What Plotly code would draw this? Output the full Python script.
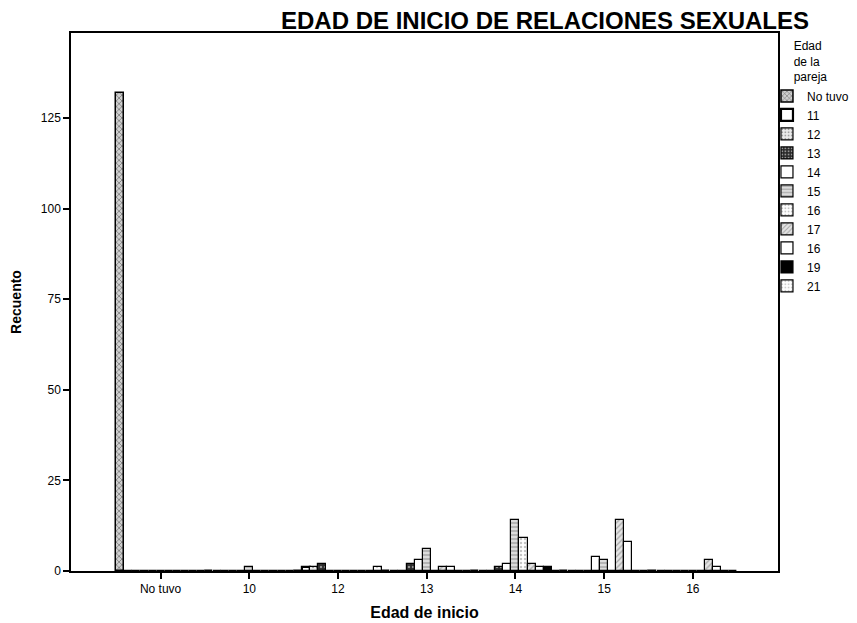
import plotly.graph_objects as go

categories = ["No tuvo", "10", "12", "13", "14", "15", "16"]
series_names = ["No tuvo", "11", "12", "13", "14", "15", "16", "17", "16", "19", "21"]
v_no_tuvo = [132, 0, 0, 0, 0, 0, 0]
v_11 = [0, 0, 1, 0, 0, 0, 0]
v_12 = [0, 0, 1, 0, 0, 0, 0]
v_13 = [0, 0, 2, 2, 1, 0, 0]
v_14 = [0, 0, 0, 3, 2, 4, 0]
v_15 = [0, 1, 0, 6, 14, 3, 0]
v_16 = [0, 0, 0, 0, 9, 0, 0]
v_17 = [0, 0, 0, 1, 2, 14, 3]
v_18 = [0, 0, 0, 1, 1, 8, 1]
v_19 = [0, 0, 0, 0, 1, 0, 0]
v_21 = [0, 0, 1, 0, 0, 0, 0]
series_values = [v_no_tuvo, v_11, v_12, v_13, v_14, v_15, v_16, v_17, v_18, v_19, v_21]
y_ticks = [0, 25, 50, 75, 100, 125]

styles = [
    dict(color="#d0d0d0", shape="x", fg="#000000", lw=1.5),
    dict(color="#ffffff", shape="", fg="#000000", lw=2.2),
    dict(color="#ececec", shape=".", fg="#555555", lw=1.2),
    dict(color="#2a2a2a", shape=".", fg="#ffffff", lw=1.2),
    dict(color="#ffffff", shape="", fg="#000000", lw=1.2),
    dict(color="#dcdcdc", shape="-", fg="#555555", lw=1.2),
    dict(color="#ffffff", shape=".", fg="#888888", lw=1.2),
    dict(color="#e4e4e4", shape="/", fg="#666666", lw=1.2),
    dict(color="#ffffff", shape="", fg="#000000", lw=1.2),
    dict(color="#000000", shape="", fg="#000000", lw=1.2),
    dict(color="#ffffff", shape=".", fg="#999999", lw=1.2),
]

fig = go.Figure()
for name, vals, st in zip(series_names, series_values, styles):
    fig.add_trace(go.Bar(
        x=categories, y=vals, name=name,
        marker=dict(color=st["color"],
                    line=dict(color="#000000", width=st["lw"]),
                    pattern=dict(shape=st["shape"], fgcolor=st["fg"], size=4, solidity=0.3)),
    ))

font_family = "Liberation Sans, Arial, sans-serif"
fig.update_layout(
    barmode="group", bargap=0, bargroupgap=0,
    width=849, height=615,
    margin=dict(l=63, r=79, t=25, b=52, autoexpand=False),
    paper_bgcolor="white", plot_bgcolor="white",
    font=dict(family=font_family, color="#000000", size=12),
    title=dict(text="<b>EDAD DE INICIO DE RELACIONES SEXUALES</b>",
               x=0.6325, xref="container", xanchor="center",
               y=0.9797, yref="container", yanchor="middle",
               font=dict(size=24, family=font_family, color="#000000")),
    xaxis=dict(type="category", range=[-1.01, 6.96],
               showline=True, linecolor="#000000", linewidth=1.5, mirror=True,
               ticks="outside", ticklen=6, tickwidth=2, tickcolor="#000000",
               showgrid=False, tickfont=dict(size=12),
               title=dict(text="<b>Edad de inicio</b>", font=dict(size=16), standoff=12)),
    yaxis=dict(range=[0, 148.5], tickvals=y_ticks,
               showline=True, linecolor="#000000", linewidth=1.5, mirror=True,
               ticks="outside", ticklen=6, tickwidth=1.5, tickcolor="#000000",
               showgrid=False, zeroline=False, tickfont=dict(size=12),
               title=dict(text="<b>Recuento</b>", font=dict(size=14), standoff=16)),
    legend=dict(x=0.9844, xanchor="left", y=0.997, yanchor="top",
                font=dict(size=12, family=font_family),
                title=dict(text="Edad<br>de la<br>pareja", side="top center",
                           font=dict(size=12, family=font_family)),
                bgcolor="rgba(0,0,0,0)", itemwidth=30, tracegroupgap=0),
)
fig.write_html("out.html")
